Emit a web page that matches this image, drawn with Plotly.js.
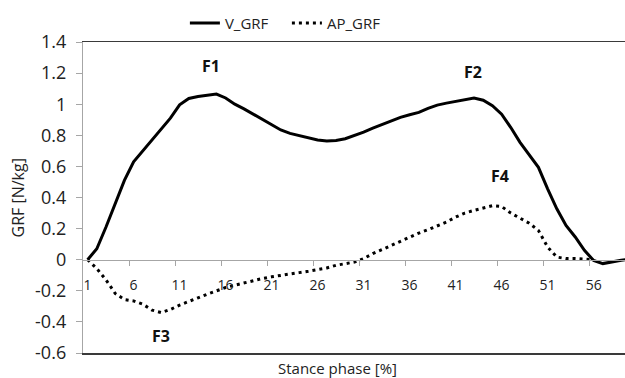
<!DOCTYPE html>
<html>
<head>
<meta charset="utf-8">
<script src="https://cdn.plot.ly/plotly-3.0.1.min.js"></script>
<style>
html,body{margin:0;padding:0;background:#fff;}
#chart{width:625px;height:378px;}
</style>
</head>
<body>
<div id="chart"></div>
<script>
// Data
const stance = [];
for (let i = 1; i <= 60; i++) stance.push(i);

const vGRF = [0.0, 0.07, 0.21, 0.36, 0.51, 0.63, 0.70, 0.765, 0.834, 0.91,
  0.996, 1.037, 1.05, 1.058, 1.065, 1.04, 1.0, 0.97, 0.936, 0.90,
  0.866, 0.834, 0.812, 0.797, 0.782, 0.77, 0.763, 0.767, 0.778, 0.797,
  0.82, 0.846, 0.87, 0.893, 0.915, 0.932, 0.947, 0.973, 0.994, 1.007,
  1.017, 1.03, 1.039, 1.026, 0.99, 0.936, 0.85, 0.755, 0.676, 0.594,
  0.456, 0.327, 0.22, 0.146, 0.06, -0.005, -0.025, -0.012, -0.003, 0.005];

const apGRF = [0.0, -0.057, -0.13, -0.217, -0.256, -0.265, -0.286, -0.324, -0.34, -0.32,
  -0.292, -0.271, -0.245, -0.222, -0.2, -0.179, -0.164, -0.149, -0.136, -0.121,
  -0.11, -0.1, -0.089, -0.083, -0.074, -0.064, -0.053, -0.036, -0.025, -0.015,
  0.007, 0.039, 0.065, 0.092, 0.12, 0.146, 0.171, 0.193, 0.216, 0.242,
  0.274, 0.3, 0.317, 0.331, 0.347, 0.342, 0.3, 0.267, 0.235, 0.188,
  0.081, 0.017, 0.007, 0.007, 0.003, 0.0];

const xTickVals = [1, 6, 11, 16, 21, 26, 31, 36, 41, 46, 51, 56];
const xTickLabels = ['1','6','11','16','21','26','31','36','41','46','51','56'];
const xBoundaryTicks = [5.5, 10.5, 15.5, 20.5, 25.5, 30.5, 35.5, 40.5, 45.5, 50.5, 55.5];
const yTickVals = [1.4, 1.2, 1.0, 0.8, 0.6, 0.4, 0.2, 0, -0.2, -0.4, -0.6];
const yTickLabels = ['1.4','1.2','1','0.8','0.6','0.4','0.2','0','-0.2','-0.4','-0.6'];

const seriesNames = ['V_GRF', 'AP_GRF'];
const peakLabels = [
  {text: 'F1', x: 14.4, y: 1.245},
  {text: 'F2', x: 42.9, y: 1.205},
  {text: 'F3', x: 8.95, y: -0.49},
  {text: 'F4', x: 45.8, y: 0.54}
];

const FONT = 'Open Sans, Noto Sans, sans-serif';
const xRange = [0.5, 59.41];

const traces = [
  {x: stance.slice(0, vGRF.length), y: vGRF, name: seriesNames[0], type: 'scatter', mode: 'lines',
   line: {color: '#000000', width: 3}, xaxis: 'x', yaxis: 'y'},
  {x: stance.slice(0, apGRF.length), y: apGRF, name: seriesNames[1], type: 'scatter', mode: 'lines',
   line: {color: '#000000', width: 3, dash: '3px,4px'}, xaxis: 'x', yaxis: 'y'}
];

const annotations = peakLabels.map(p => ({
  text: '<b>' + p.text + '</b>', x: p.x, y: p.y, xref: 'x', yref: 'y',
  showarrow: false, font: {family: FONT, size: 16, color: '#111'}
}));
annotations.push({text: 'Stance phase [%]', xref: 'paper', yref: 'paper', x: 0.469, y: -0.048,
  xanchor: 'center', yanchor: 'middle', showarrow: false, font: {family: FONT, size: 15, color: '#222'}});
annotations.push({text: 'GRF [N/kg]', xref: 'paper', yref: 'paper', x: -0.12, y: 0.5,
  xanchor: 'center', yanchor: 'middle', textangle: -90, showarrow: false,
  font: {family: FONT, size: 16, color: '#222'}});

const layout = {
  width: 625, height: 378,
  margin: {l: 83, r: 0, t: 42, b: 25, autoexpand: false},
  paper_bgcolor: '#ffffff', plot_bgcolor: '#ffffff',
  showlegend: true,
  legend: {orientation: 'h', x: 0.188, y: 1.06, xanchor: 'left', yanchor: 'middle',
    font: {family: FONT, size: 15, color: '#222'}, bgcolor: 'rgba(0,0,0,0)', tracegroupgap: 0,
    entrywidth: 57, entrywidthmode: 'pixels'},
  xaxis: {range: xRange, showgrid: false, zeroline: false, showticklabels: false, ticks: '',
    showline: true, linecolor: '#3a3a3a', linewidth: 1.5, mirror: true, anchor: 'y', side: 'bottom', fixedrange: true, automargin: false},
  xaxis2: {range: xRange, overlaying: 'x', anchor: 'free', position: 0.3, side: 'bottom',
    tickmode: 'array', tickvals: xTickVals, ticktext: xTickLabels, ticks: 'outside', ticklen: 12,
    tickcolor: 'rgba(0,0,0,0)', showgrid: false, zeroline: false, showline: true, linecolor: '#a6a6a6', linewidth: 1.2,
    tickfont: {family: FONT, size: 14, color: '#222'}, automargin: false},
  xaxis3: {range: xRange, overlaying: 'x', anchor: 'free', position: 0.3, side: 'bottom',
    tickmode: 'array', tickvals: xBoundaryTicks, ticks: 'outside', ticklen: 5, tickcolor: '#a6a6a6',
    showticklabels: false, showgrid: false, zeroline: false, showline: false, automargin: false},
  yaxis: {range: [-0.6, 1.4], tickmode: 'array', tickvals: yTickVals, ticktext: yTickLabels,
    ticks: 'outside', ticklen: 6, tickcolor: '#a6a6a6', ticklabelstandoff: 6, showgrid: false, zeroline: false,
    showline: true, linecolor: '#a6a6a6', linewidth: 1.2, tickfont: {family: FONT, size: 18, color: '#222'},
    fixedrange: true, automargin: false},
  annotations: annotations
};

// invisible helper traces so the overlay axes are rendered
traces.push({x: [xRange[0]], y: [0], xaxis: 'x2', yaxis: 'y', mode: 'markers', marker: {opacity: 0}, showlegend: false, hoverinfo: 'skip'});
traces.push({x: [xRange[0]], y: [0], xaxis: 'x3', yaxis: 'y', mode: 'markers', marker: {opacity: 0}, showlegend: false, hoverinfo: 'skip'});

Plotly.newPlot('chart', traces, layout, {staticPlot: true, displayModeBar: false});
</script>
</body>
</html>
